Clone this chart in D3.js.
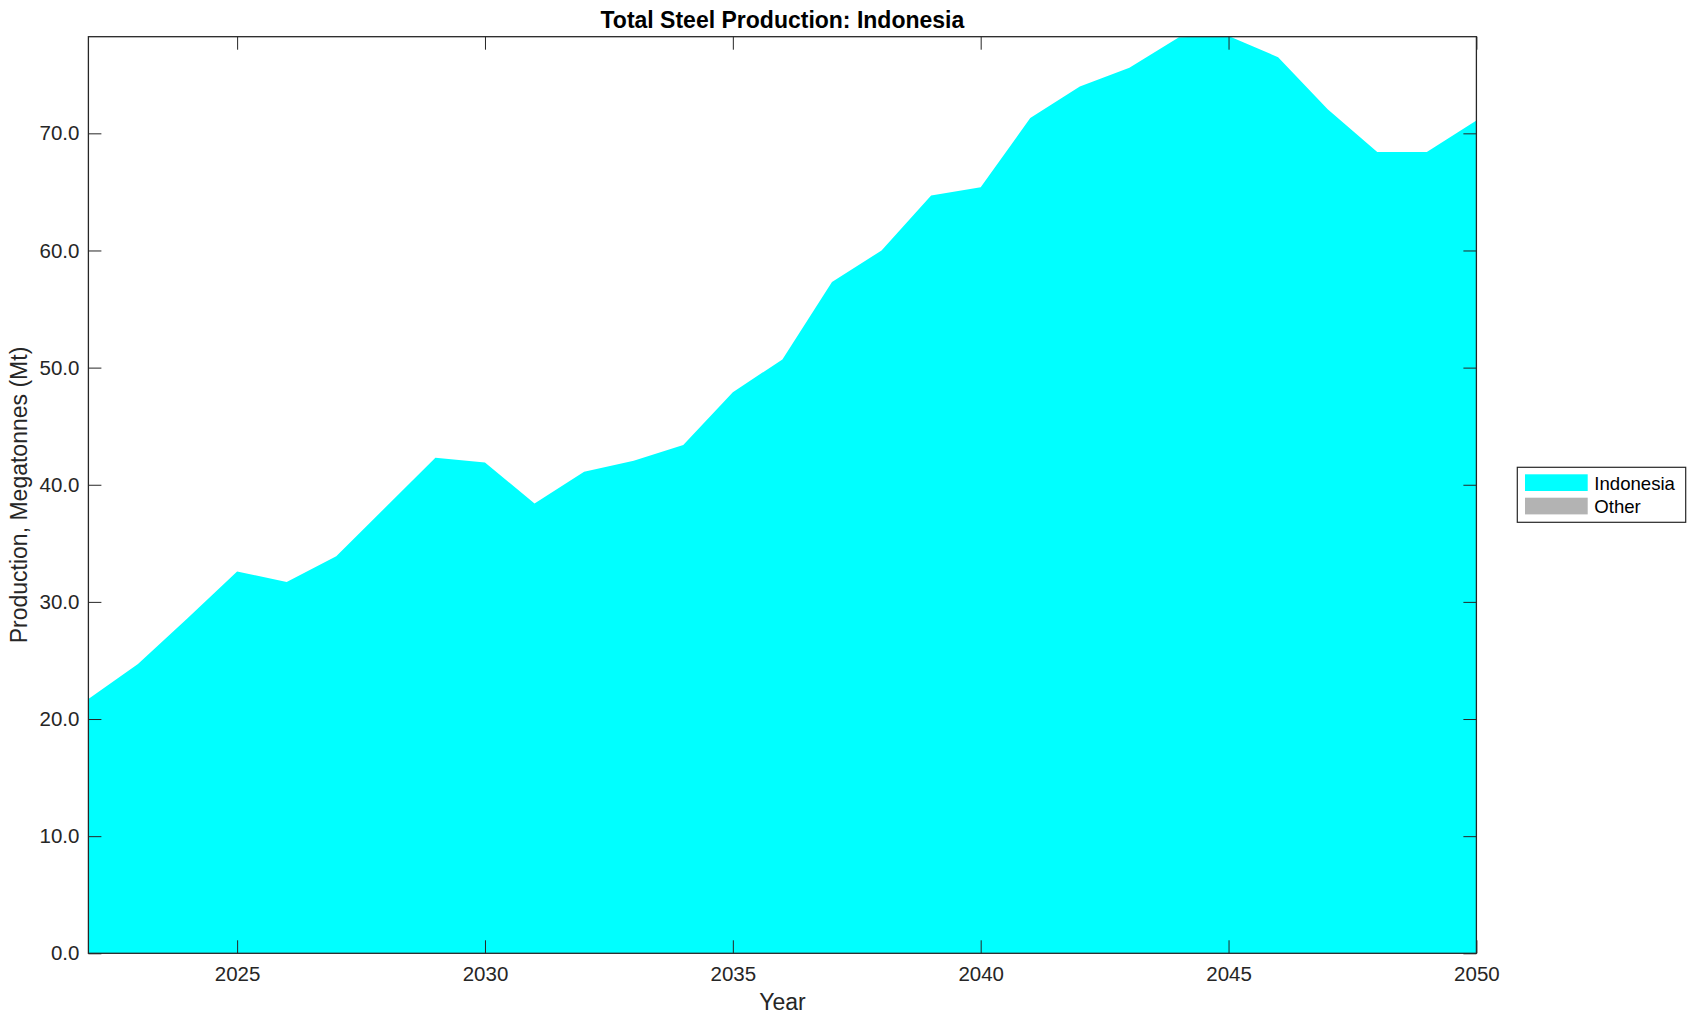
<!DOCTYPE html>
<html>
<head>
<meta charset="utf-8">
<script src="https://cdn.jsdelivr.net/npm/d3@7"></script>
<style>
  html, body { margin: 0; padding: 0; background: #fff; }
  svg { display: block; font-family: "Liberation Sans", Arial, Helvetica, sans-serif; }
</style>
</head>
<body>
<svg id="chart" width="1696" height="1021"></svg>
<script>
// ---- Data ----
const years = [2022, 2023, 2024, 2025, 2026, 2027, 2028, 2029, 2030, 2031, 2032, 2033, 2034, 2035, 2036,
               2037, 2038, 2039, 2040, 2041, 2042, 2043, 2044, 2045, 2046, 2047, 2048, 2049, 2050];
const indonesia = [21.7, 24.7, 28.6, 32.6, 31.7, 33.9, 38.1, 42.3, 41.9, 38.4, 41.1, 42.05, 43.4, 47.9, 50.7,
                   57.3, 60.0, 64.7, 65.4, 71.3, 74.0, 75.6, 78.2, 78.3, 76.5, 72.05, 68.4, 68.4, 71.1];
const other = [0, 0, 0, 0, 0, 0, 0, 0, 0, 0, 0, 0, 0, 0, 0, 0, 0, 0, 0, 0, 0, 0, 0, 0, 0, 0, 0, 0, 0];
const seriesNames = ["Indonesia", "Other"];
const seriesColors = ["#00ffff", "#b3b3b3"];
const yTicks = [0, 10, 20, 30, 40, 50, 60, 70];
const xTicks = [2025, 2030, 2035, 2040, 2045, 2050];
const yMax = 78.25;
const titleText = "Total Steel Production: Indonesia";
const xLabelText = "Year";
const yLabelText = "Production, Megatonnes (Mt)";

// ---- Layout ----
const L = 88.4, R = 1476.4, T = 36.7, B = 953.3;
const axisColor = "#262626";

const svg = d3.select("#chart");
const x = d3.scaleLinear().domain([years[0], years[years.length - 1]]).range([L, R]);
const y = d3.scaleLinear().domain([0, yMax]).range([B, T]);

const table = years.map((yr, i) => ({ year: yr, Indonesia: indonesia[i], Other: other[i] }));
const stack = d3.stack().keys(seriesNames);
const layers = stack(table);

svg.append("defs").append("clipPath").attr("id", "plotclip")
  .append("rect").attr("x", L).attr("y", T).attr("width", R - L).attr("height", B - T);

const area = d3.area()
  .x(d => x(d.data.year))
  .y0(d => y(d[0]))
  .y1(d => y(d[1]));

svg.append("g").attr("clip-path", "url(#plotclip)")
  .selectAll("path").data(layers).join("path")
  .attr("d", area)
  .attr("fill", (d, i) => seriesColors[i])
  .attr("stroke", "none");

// ---- Axes ----
const tickLen = 13;
const fmt = d3.format(".1f");

const gy = svg.append("g").attr("transform", `translate(${L},0)`)
  .call(d3.axisLeft(y).tickValues(yTicks).tickFormat(fmt).tickSizeInner(-tickLen).tickSizeOuter(0).tickPadding(9));
const gx = svg.append("g").attr("transform", `translate(0,${B})`)
  .call(d3.axisBottom(x).tickValues(xTicks).tickFormat(d3.format("d")).tickSizeInner(-tickLen).tickSizeOuter(0).tickPadding(13.4));
const gr = svg.append("g").attr("transform", `translate(${R},0)`)
  .call(d3.axisRight(y).tickValues(yTicks).tickFormat("").tickSizeInner(-tickLen).tickSizeOuter(0));
const gt = svg.append("g").attr("transform", `translate(0,${T})`)
  .call(d3.axisTop(x).tickValues(xTicks).tickFormat("").tickSizeInner(-tickLen).tickSizeOuter(0));

[gy, gx, gr, gt].forEach(g => {
  g.select(".domain").remove();
  g.selectAll(".tick line").attr("stroke", axisColor).attr("stroke-width", 1);
  g.selectAll(".tick text").attr("fill", axisColor).style("font-size", "20.5px")
    .style("font-family", "'Liberation Sans', Arial, Helvetica, sans-serif");
});

// box
svg.append("rect").attr("x", L).attr("y", T).attr("width", R - L).attr("height", B - T)
  .attr("fill", "none").attr("stroke", axisColor).attr("stroke-width", 1.3);

// ---- Labels ----
svg.append("text").attr("x", (L + R) / 2).attr("y", 28.3).attr("text-anchor", "middle")
  .style("font-size", "23px").style("font-weight", "bold").attr("fill", "#000").text(titleText);
svg.append("text").attr("x", (L + R) / 2).attr("y", 1010).attr("text-anchor", "middle")
  .style("font-size", "23px").attr("fill", axisColor).text(xLabelText);
svg.append("text").attr("transform", `translate(26.7,${(T + B) / 2}) rotate(-90)`).attr("text-anchor", "middle")
  .style("font-size", "23px").attr("fill", axisColor).text(yLabelText);

// ---- Legend ----
const lg = svg.append("g");
lg.append("rect").attr("x", 1517.3).attr("y", 467.3).attr("width", 168.4).attr("height", 55)
  .attr("fill", "#fff").attr("stroke", axisColor).attr("stroke-width", 1.2);
const legY = [474.3, 497.7];
const legBase = [490, 512.7];
seriesNames.forEach((name, i) => {
  lg.append("rect").attr("x", 1525).attr("y", legY[i]).attr("width", 62.7).attr("height", 16.7)
    .attr("fill", seriesColors[i]);
  lg.append("text").attr("x", 1594.3).attr("y", legBase[i]).style("font-size", "18.6px")
    .attr("fill", "#000").text(name);
});
</script>
</body>
</html>
